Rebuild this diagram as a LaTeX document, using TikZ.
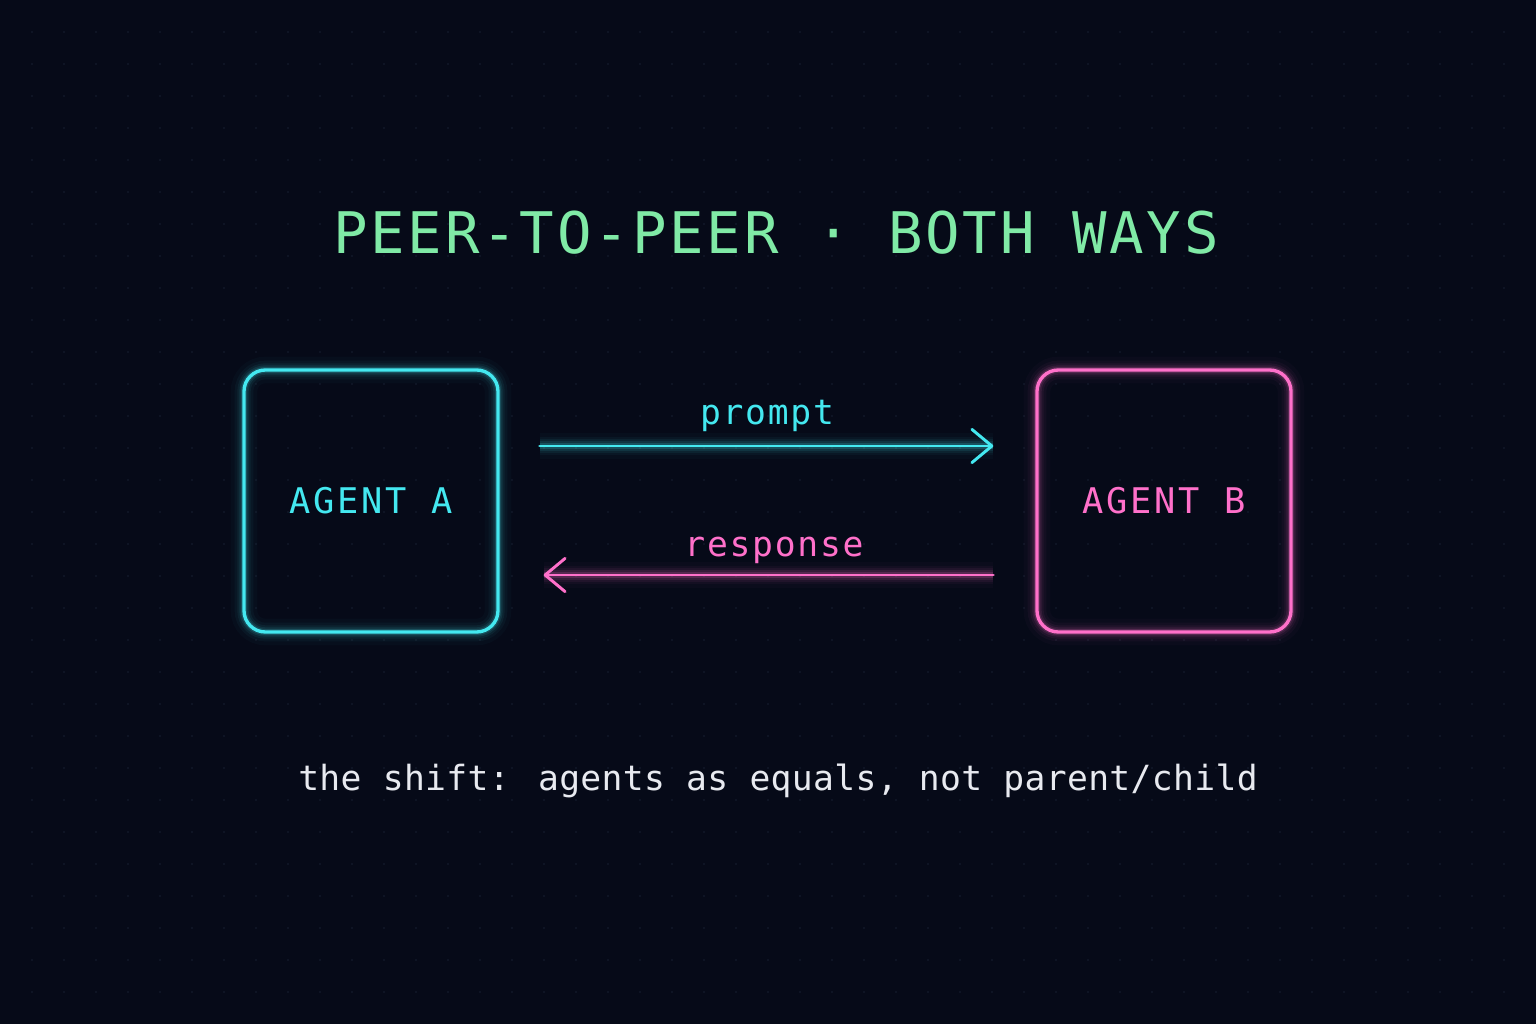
\documentclass[tikz,border=0pt]{standalone}
\usepackage{fontspec}
\setmonofont{DejaVu Sans Mono}
\newfontfamily\titlefont[LetterSpace=5]{DejaVu Sans Mono}
\newfontfamily\agentfont[LetterSpace=8]{DejaVu Sans Mono}
\newfontfamily\labelfont[LetterSpace=5]{DejaVu Sans Mono}
\newfontfamily\captionfont[LetterSpace=1]{DejaVu Sans Mono}
\usetikzlibrary{arrows.meta,calc}
\definecolor{bg}{HTML}{060A18}
\definecolor{dotc}{HTML}{121829}
\definecolor{neoncyan}{HTML}{44E8F0}
\definecolor{neonpink}{HTML}{FF70CA}
\definecolor{mint}{HTML}{80EAA6}
\definecolor{softwhite}{HTML}{E8EAF0}
\tikzset{
  glow/.style={
    preaction={draw=#1, arrows={-}, line width=20pt, draw opacity=0.025},
    preaction={draw=#1, arrows={-}, line width=14pt, draw opacity=0.04},
    preaction={draw=#1, arrows={-}, line width=10pt, draw opacity=0.06},
    preaction={draw=#1, arrows={-}, line width=7pt, draw opacity=0.09},
    preaction={draw=#1, arrows={-}, line width=4.5pt, draw opacity=0.16}},
  agentbox/.style={draw=#1, line width=2.5pt, rounded corners=16pt,
    minimum width=190.5pt, minimum height=196.5pt, glow=#1,
    text=#1, font=\agentfont\fontsize{26.5}{28}\selectfont},
  flow/.style={draw=#1, line width=2.2pt, line cap=round, glow=#1,
    -{Straight Barb[length=15pt, width=25pt, line cap=round, line join=round]}},
  flowlabel/.style={text=#1, font=\labelfont\fontsize{26}{28}\selectfont, anchor=base, inner sep=0pt}
}
\begin{document}
\begin{tikzpicture}[x=0.75pt, y=-0.75pt]
\fill[bg] (0,0) rectangle (1536,1024);
\useasboundingbox (0,0) rectangle (1536,1024);
\foreach \i in {1,...,47}{
  \foreach \j in {1,...,31}{
    \fill[dotc] (\i*32,\j*32) circle[radius=0.8pt];
  }
}
\node[text=mint, font=\titlefont\fontsize{43}{46}\selectfont, anchor=base, inner sep=0pt] (title) at (776,253) {PEER-TO-PEER · BOTH WAYS};
\node[agentbox=neoncyan] (boxA) at (371,501) {AGENT A};
\node[agentbox=neonpink] (boxB) at (1164,501) {AGENT B};
\coordinate (pstart) at ($(boxA.east)+(40,-55)$);
\coordinate (pend) at ($(boxB.west)+(-42,-55)$);
\coordinate (rstart) at ($(boxB.west)+(-42,74)$);
\coordinate (rend) at ($(boxA.east)+(44,74)$);
\draw[flow=neoncyan] (pstart) -- (pend);
\draw[flow=neonpink] (rstart) -- (rend);
\node[flowlabel=neoncyan] (lprompt) at (767,424) {prompt};
\node[flowlabel=neonpink] (lresp) at (774,556) {response};
\node[text=softwhite, font=\captionfont\fontsize{26}{28}\selectfont, anchor=base, inner sep=0pt] (caption) at (778,790) {the shift: agents as equals, not parent/child};
\end{tikzpicture}
\end{document}
